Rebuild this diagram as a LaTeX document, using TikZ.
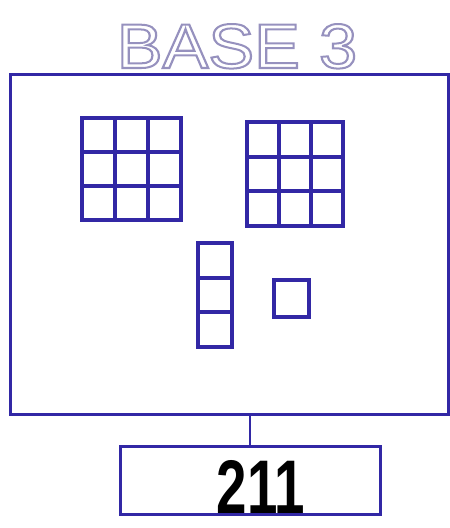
\documentclass[tikz,border=0pt]{standalone}
\usepackage{fontspec}
\setmainfont{Liberation Sans}
\definecolor{inkblue}{RGB}{50,40,165}
\definecolor{pencil}{RGB}{150,145,190}
\newcommand{\hollowtext}[1]{\special{pdf:literal direct 1 Tr 2 w}#1\special{pdf:literal direct 0 Tr}}
\begin{document}
\begin{tikzpicture}[x=1pt,y=1pt,
  frame/.style={draw=inkblue,line width=3pt,inner sep=0pt},
  cell/.style={draw=inkblue,line width=3.8pt,inner sep=0pt},
  title/.style={text=pencil,font=\fontsize{63}{63}\selectfont,inner sep=0pt,anchor=base},
  answer/.style={text=black,font=\bfseries\fontsize{76}{76}\selectfont,inner sep=0pt,anchor=base}]
\useasboundingbox (0,0) rectangle (450,528);
% title
\node[title,xscale=1.09] (ttl) at (237,460) {\hollowtext{BASE 3}};
% outer frame
\node[frame,minimum width=438pt,minimum height=340pt] (frame) at (229,283) {};
% grid 1
\foreach \i in {0,1,2}{\foreach \j in {0,1,2}{
  \node[cell,minimum width=33pt,minimum height=34pt] (ga-\i-\j) at ({98.5+33*\i},{528-135-34*\j}) {};}}
% grid 2
\foreach \i in {0,1,2}{\foreach \j in {0,1,2}{
  \node[cell,minimum width=32pt,minimum height=34.7pt] (gb-\i-\j) at ({263+32*\i},{528-139.35-34.7*\j}) {};}}
% column of three
\foreach \j in {0,1,2}{
  \node[cell,minimum width=34pt,minimum height=34.7pt] (col-\j) at (215,{528-260.35-34.7*\j}) {};}
% single unit
\node[cell,minimum width=35pt,minimum height=37pt] (unit) at (291.5,229.5) {};
% result box
\node[frame,minimum width=260pt,minimum height=68pt] (result) at (250,47) {};
\draw[inkblue,line width=2.6pt] (frame.south -| result.north) -- (result.north);
\node[answer,xscale=0.72] (num) at (261,15) {211};
\end{tikzpicture}
\end{document}
